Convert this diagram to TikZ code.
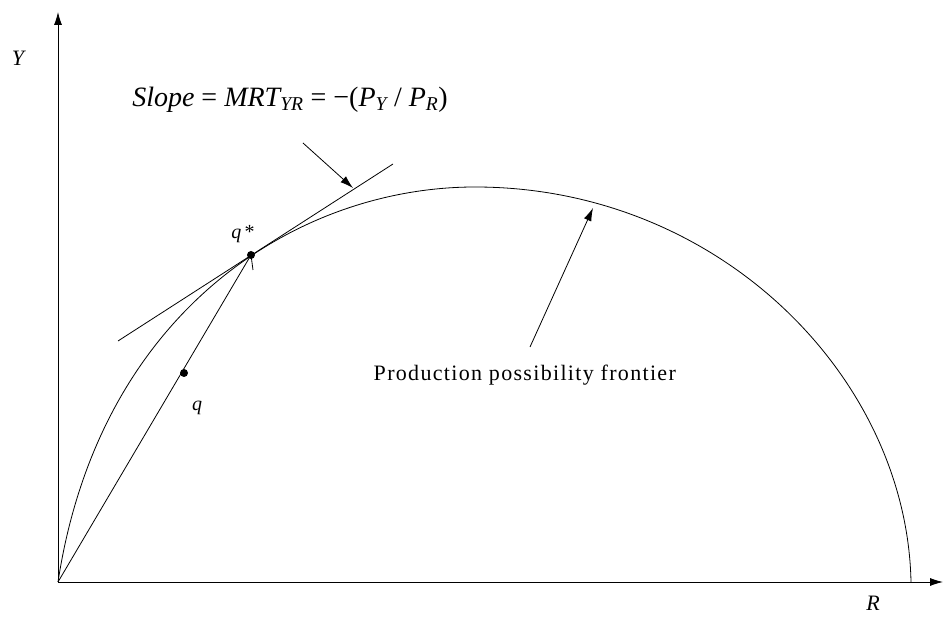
\documentclass[tikz,border=0pt]{standalone}
\usepackage{fontspec}
\setmainfont{Liberation Serif}
\usetikzlibrary{arrows.meta}
\begin{document}
\begin{tikzpicture}[x=1pt,y=1pt,line width=0.8pt,
    pointer/.style={-{Latex[length=13pt,width=8pt]}},
    dot/.style={circle,fill,inner sep=0pt,minimum size=8pt}]
            \useasboundingbox (0,0) rectangle (943,618);
            \coordinate (Origin) at (58,36);
            \coordinate (YTop) at (58,606);
            \coordinate (XEnd) at (943,36);
            \coordinate (Peak) at (475,431);
            \coordinate (FrontierEnd) at (911,36);
            \coordinate (TangentLeft) at (118,277);
            \coordinate (TangentRight) at (393,454);
            \coordinate (SlopeTail) at (303,475);
            \coordinate (SlopeTip) at (353,430);
            \coordinate (FrontierTail) at (530,271);
            \coordinate (FrontierTip) at (593,410);

            \draw[pointer] (Origin)--(YTop);
            \draw[pointer] (Origin)--(XEnd);
            % frontier
            \draw (Origin) .. controls (100,310) and (300,431) .. (Peak)
                .. controls (720,431) and (907,240) .. (FrontierEnd);
            \draw (TangentLeft)--(TangentRight);

            \node[dot] (QStar) at (251,363) {};
            \node[dot] (Q) at (184,245) {};
            \draw (Origin)--(QStar.center)--++(2,-15);

            \node (YLabel) at (18,560) {\fontsize{22}{24}\selectfont\itshape Y};
            \node (RLabel) at (873,15) {\fontsize{22}{24}\selectfont\itshape R};
            \node (QLabel) at (197,210) {\fontsize{20}{22}\selectfont\itshape q};
            \node (QStarLabel) at (243,384) {\fontsize{20}{22}\selectfont\itshape q\,\upshape*};
            \node (SlopeLabel) at (290,518) {\fontsize{28}{30}\selectfont
                \itshape Slope\/ \upshape= \itshape MRT\textsubscript{\itshape YR}
                \upshape = −(\itshape P\textsubscript{\itshape Y} \upshape/ \itshape P\textsubscript{\itshape R}\upshape)};
            \node[anchor=west] (FrontierLabel) at (370,243)
                {\fontsize{22}{25}\selectfont\addfontfeature{LetterSpace=6}Production possibility frontier};

            \draw[pointer] (SlopeTail)--(SlopeTip);
            \draw[pointer] (FrontierTail)--(FrontierTip);
        \end{tikzpicture}
\end{document}
